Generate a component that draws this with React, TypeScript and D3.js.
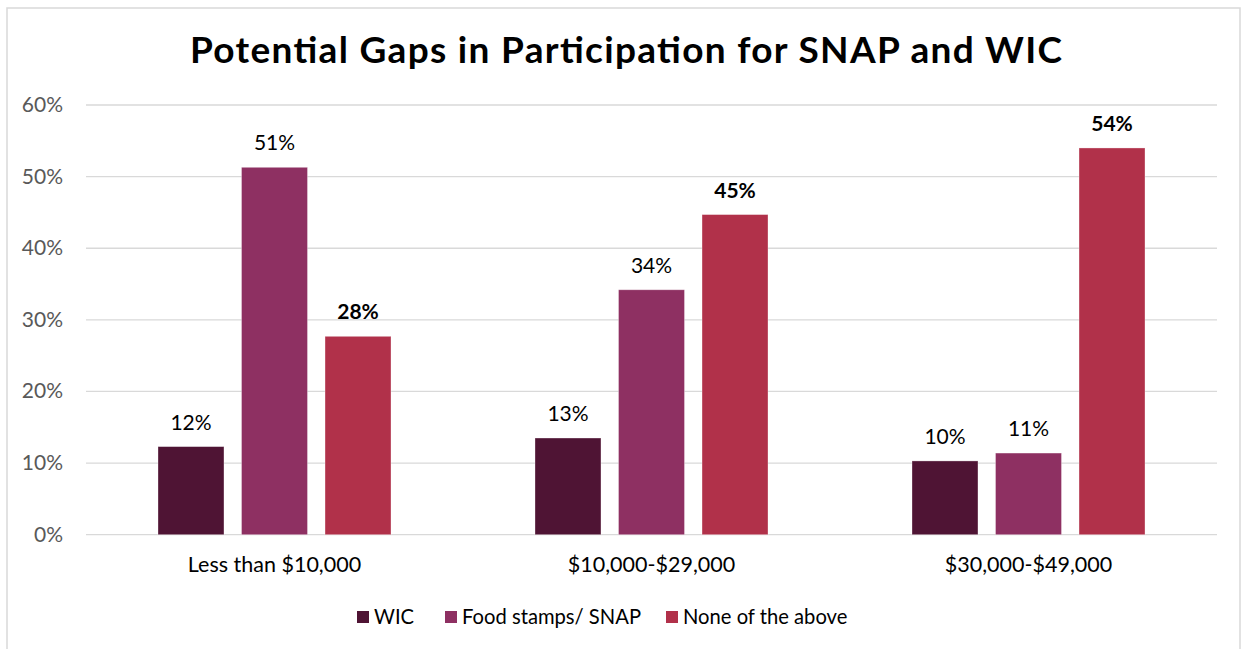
import React from "react";
import * as d3 from "d3";

const categories = ["Less than $10,000", "$10,000-$29,000", "$30,000-$49,000"];
const seriesNames = ["WIC", "Food stamps/ SNAP", "None of the above"];
const wicValues = [12.3, 13.5, 10.3];
const snapValues = [51.3, 34.2, 11.4];
const noneValues = [27.7, 44.7, 54.0];
const valueLabels = [
  ["12%", "13%", "10%"],
  ["51%", "34%", "11%"],
  ["28%", "45%", "54%"],
];
const boldSeries = [false, false, true];
const yTicks = [0, 10, 20, 30, 40, 50, 60];
const colors = ["#4F1434", "#8E3062", "#B1314A"];

const W = 1247;
const H = 649;
const FONT = "Lato, 'Open Sans', sans-serif";

export default function App() {
  const series = [wicValues, snapValues, noneValues];
  const x0 = d3.scaleBand().domain(categories).range([86, 1217]).paddingInner(0).paddingOuter(0);
  const inner = d3
    .scaleBand()
    .domain(seriesNames)
    .range([72, x0.bandwidth() - 72])
    .paddingInner(0.21)
    .paddingOuter(0);
  const y = d3.scaleLinear().domain([0, 60]).range([534.7, 105]);

  const legendX = [357, 445, 666];

  return (
    <svg
      width={W}
      height={H}
      style={{ position: "absolute", left: 0, top: 0, background: "#fff" }}
      fontFamily={FONT}
    >
      <rect x={7} y={8} width={1233} height={700} fill="#fff" stroke="#D9D9D9" strokeWidth={1.5} />
      <text
        x={626}
        y={63}
        textAnchor="middle"
        fontSize={37}
        fontWeight={700}
        fill="#000"
        textLength={872}
        lengthAdjust="spacing"
      >
        Potential Gaps in Participation for SNAP and WIC
      </text>
      {yTicks.map((t) => (
        <g key={t}>
          <line x1={86} x2={1217} y1={y(t)} y2={y(t)} stroke="#D9D9D9" strokeWidth={1.3} />
          <text x={63} y={y(t) + 7} textAnchor="end" fontSize={21} fill="#595959">
            {t}%
          </text>
        </g>
      ))}
      {categories.map((c, ci) => (
        <g key={c} transform={`translate(${x0(c)},0)`}>
          {series.map((vals, si) => {
            const bx = inner(seriesNames[si])!;
            const by = y(vals[ci]);
            return (
              <g key={si}>
                <rect
                  x={bx}
                  y={by}
                  width={inner.bandwidth()}
                  height={y(0) - by}
                  fill={colors[si]}
                  stroke="#fff"
                  strokeOpacity={0.4}
                  strokeWidth={0.8}
                />
                <text
                  x={bx + inner.bandwidth() / 2}
                  y={by - 17}
                  textAnchor="middle"
                  fontSize={21}
                  fontWeight={boldSeries[si] ? 700 : 400}
                  fill="#000"
                >
                  {valueLabels[si][ci]}
                </text>
              </g>
            );
          })}
          <text x={x0.bandwidth() / 2} y={572} textAnchor="middle" fontSize={21.5} fill="#000">
            {c}
          </text>
        </g>
      ))}
      {seriesNames.map((s, i) => (
        <g key={s}>
          <rect x={legendX[i]} y={611} width={12} height={12} fill={colors[i]} />
          <text x={legendX[i] + 17} y={624} fontSize={20.2} fill="#000">
            {s}
          </text>
        </g>
      ))}
    </svg>
  );
}
